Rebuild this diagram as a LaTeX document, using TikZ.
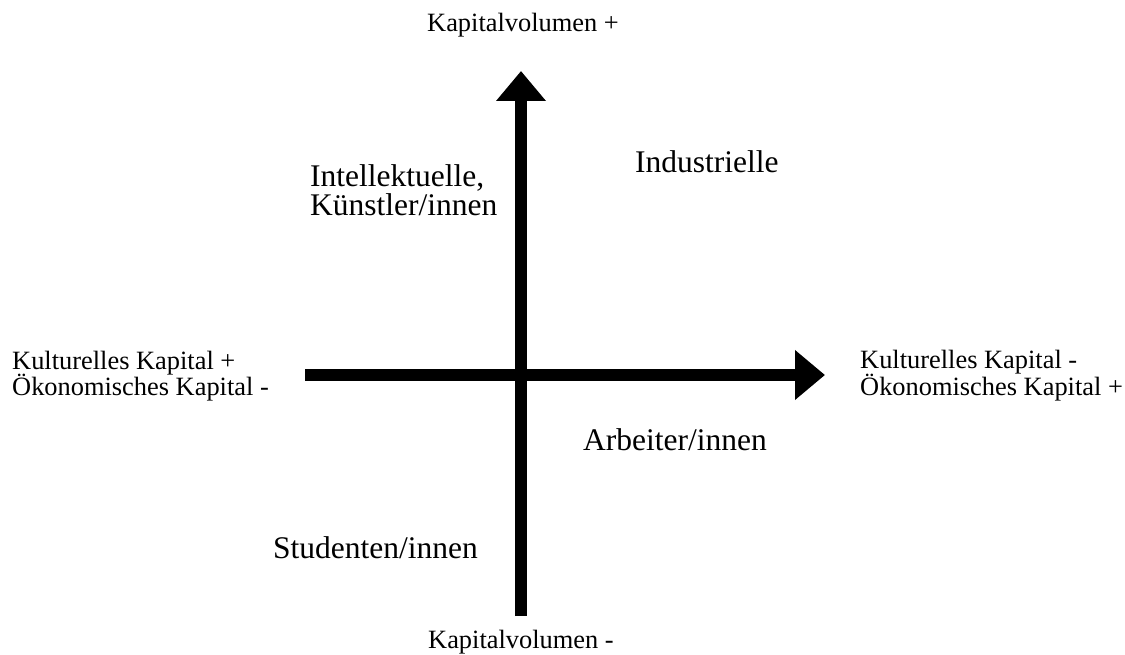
\documentclass[tikz,border=0pt]{standalone}
\usepackage{fontspec}
\setmainfont{Liberation Serif}
\usetikzlibrary{arrows.meta}
\begin{document}
\begin{tikzpicture}[x=1pt,y=-1pt,
  axis/.style={line width=12pt,line cap=butt,-{Triangle[length=30pt,width=48pt]}},
  small/.style={inner sep=0pt,anchor=base west,font=\fontsize{26.4}{27}\selectfont},
  big/.style={inner sep=0pt,anchor=base west,font=\fontsize{31.5}{32}\selectfont}]
\useasboundingbox (0,0) rectangle (1125,655);
\coordinate (left) at (305,375);
\coordinate (right) at (825,375);
\coordinate (bottom) at (521,616);
\coordinate (top) at (521,71);
\draw[axis] (left) -- (right);
\draw[axis] (bottom) -- (top);
\node[small,anchor=base] (kvp) at (523,32) {Kapitalvolumen +};
\node[small] (kvm) at (428,648) {Kapitalvolumen -};
\node[small] (l1) at (12,369) {Kulturelles Kapital +};
\node[small] (l2) at (12,395) {Ökonomisches Kapital -};
\node[small] (r1) at (860,368) {Kulturelles Kapital -};
\node[small] (r2) at (860,395) {Ökonomisches Kapital +};
\node[big] (ind) at (635,173) {Industrielle};
\node[big] (int1) at (310,187) {Intellektuelle,};
\node[big] (int2) at (310,216) {Künstler/innen};
\node[big] (arb) at (583,450) {Arbeiter/innen};
\node[big] (stu) at (273,558) {Studenten/innen};
\end{tikzpicture}
\end{document}
